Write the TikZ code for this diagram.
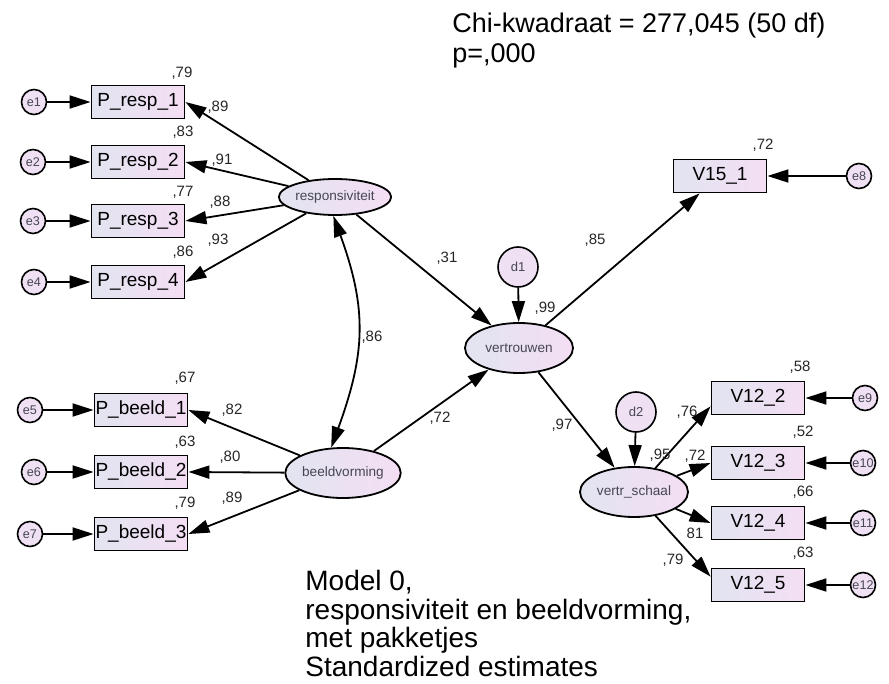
\documentclass[tikz,border=0pt]{standalone}
\usepackage{fontspec}
\setmainfont{Liberation Sans}
\usetikzlibrary{arrows.meta,shapes.geometric}
\definecolor{boxleft}{RGB}{226,228,240}
\definecolor{boxright}{RGB}{244,222,244}
\definecolor{ovaltext}{RGB}{70,70,85}

\begin{document}
\begin{tikzpicture}[x=0.5pt,y=0.5pt]
\tikzstyle{every node}+=[inner sep=0pt]
\tikzstyle{obs}=[rectangle, draw=black, line width=0.9pt, left color=boxleft, right color=boxright, minimum width=46.5pt, minimum height=16.5pt, font=\fontsize{9.5}{10}\selectfont]
\tikzstyle{lat}=[ellipse, draw=black, line width=0.9pt, left color=boxleft, right color=boxright, minimum width=54pt, minimum height=25pt, text=ovaltext, font=\fontsize{6.8}{7}\selectfont]
\tikzstyle{err}=[circle, draw=black, line width=0.8pt, fill=boxright!70!boxleft, minimum size=12.5pt, text=ovaltext, font=\fontsize{6.3}{7}\selectfont]
\tikzstyle{dis}=[circle, draw=black, line width=0.8pt, fill=boxright!70!boxleft, minimum size=20pt, text=ovaltext, font=\fontsize{6.5}{7}\selectfont]
\tikzstyle{est}=[font=\fontsize{7.5}{8}\selectfont, text=black!85]
\tikzstyle{arr}=[draw=black, line width=0.9pt, -{Triangle[length=10.5pt,width=6.5pt]}]
\useasboundingbox (0,0) rectangle (889,-684);
% fit text
\node[anchor=north west, align=left, font=\fontsize{13.5}{15}\selectfont] (fit) at (452,-13) {Chi-kwadraat = 277,045 (50 df)\\p=,000};
\node[anchor=north west, align=left, font=\fontsize{14}{14.3}\selectfont] (caption) at (305,-570) {Model 0,\\responsiviteit en beeldvorming,\\met pakketjes\\Standardized estimates};
% latent variables
\node[lat, minimum width=52pt, minimum height=18pt] (resp) at (335,-197) {responsiviteit};
\node[lat] (beeld) at (343,-473) {beeldvorming};
\node[lat] (vert) at (519,-348) {vertrouwen};
\node[lat] (vsch) at (634,-492) {vertr\_schaal};
\node[dis] (d1) at (518,-267) {d1};
\node[dis] (d2) at (636,-412) {d2};
% indicators
\node[obs] (Pr1) at (138,-102) {P\_resp\_1};
\node[obs] (Pr2) at (138,-162) {P\_resp\_2};
\node[obs] (Pr3) at (138,-221) {P\_resp\_3};
\node[obs] (Pr4) at (138,-282) {P\_resp\_4};
\node[obs] (Pb1) at (141,-410) {P\_beeld\_1};
\node[obs] (Pb2) at (141,-472) {P\_beeld\_2};
\node[obs] (Pb3) at (141,-534) {P\_beeld\_3};
\node[obs] (V151) at (720,-176) {V15\_1};
\node[obs] (V122) at (758,-398) {V12\_2};
\node[obs] (V123) at (758,-463) {V12\_3};
\node[obs] (V124) at (758,-523) {V12\_4};
\node[obs] (V125) at (758,-585) {V12\_5};
% errors
\node[err] (e1) at (34,-102) {e1};
\node[err] (e2) at (33,-162) {e2};
\node[err] (e3) at (33,-221) {e3};
\node[err] (e4) at (34,-282) {e4};
\node[err] (e5) at (30,-410) {e5};
\node[err] (e6) at (34,-472) {e6};
\node[err] (e7) at (30,-534) {e7};
\node[err] (e8) at (859,-176) {e8};
\node[err] (e9) at (865,-398) {e9};
\node[err] (e10) at (863,-463) {e10};
\node[err] (e11) at (863,-523) {e11};
\node[err] (e12) at (863,-585) {e12};
% error paths
\draw[arr] (e1) -- (Pr1);
\draw[arr] (e2) -- (Pr2);
\draw[arr] (e3) -- (Pr3);
\draw[arr] (e4) -- (Pr4);
\draw[arr] (e5) -- (Pb1);
\draw[arr] (e6) -- (Pb2);
\draw[arr] (e7) -- (Pb3);
\draw[arr] (e8) -- (V151);
\draw[arr] (e9) -- (V122);
\draw[arr] (e10) -- (V123);
\draw[arr] (e11) -- (V124);
\draw[arr] (e12) -- (V125);
\draw[arr] (d1) -- (vert);
\draw[arr] (d2) -- (vsch);
% loadings
\draw[arr] (resp) -- (Pr1.east);
\draw[arr] (resp) -- (Pr2.east);
\draw[arr] (resp) -- (Pr3.east);
\draw[arr] (resp) -- (Pr4.east);
\draw[arr] (beeld) -- (Pb1.east);
\draw[arr] (beeld) -- (Pb2.east);
\draw[arr] (beeld) -- (Pb3.east);
\draw[arr] (vert) -- (V151);
\draw[arr] (vsch) -- (V122.190);
\draw[arr] (vsch) -- (V123.west);
\draw[arr] (vsch) -- (V124.west);
\draw[arr] (vsch) -- (V125.170);
% structural paths
\draw[arr] (resp) -- (vert);
\draw[arr] (beeld) -- (vert);
\draw[arr] (vert) -- (vsch);
\draw[arr, {Triangle[length=10.5pt,width=6.5pt]}-{Triangle[length=10.5pt,width=6.5pt]}] (resp.265) to[out=-70, in=70, looseness=1.1] (beeld.115);
% estimates
\node[est] (r1) at (182,-73) {,79};
\node[est] (l1) at (218,-107) {,89};
\node[est] (r2) at (183,-132) {,83};
\node[est] (l2) at (222,-160) {,91};
\node[est] (r3) at (183,-192) {,77};
\node[est] (l3) at (220,-202) {,88};
\node[est] (r4) at (183,-252) {,86};
\node[est] (l4) at (218,-240) {,93};
\node[est] (r5) at (185,-378) {,67};
\node[est] (l5) at (232,-410) {,82};
\node[est] (r6) at (185,-442) {,63};
\node[est] (l6) at (230,-457) {,80};
\node[est] (r7) at (185,-503) {,79};
\node[est] (l7) at (232,-498) {,89};
\node[est] (cov) at (372,-337) {,86};
\node[est] (b1) at (447,-258) {,31};
\node[est] (b2) at (440,-418) {,72};
\node[est] (b3) at (562,-425) {,97};
\node[est] (rv) at (545,-308) {,99};
\node[est] (l8) at (595,-240) {,85};
\node[est] (r8) at (763,-145) {,72};
\node[est] (rvs) at (660,-455) {,95};
\node[est] (l9) at (687,-412) {,76};
\node[est] (r9) at (800,-367) {,58};
\node[est] (l10) at (695,-456) {,72};
\node[est] (r10) at (803,-432) {,52};
\node[est] (l11) at (695,-533) {81};
\node[est] (r11) at (803,-492) {,66};
\node[est] (l12) at (673,-560) {,79};
\node[est] (r12) at (803,-553) {,63};
\end{tikzpicture}
\end{document}
